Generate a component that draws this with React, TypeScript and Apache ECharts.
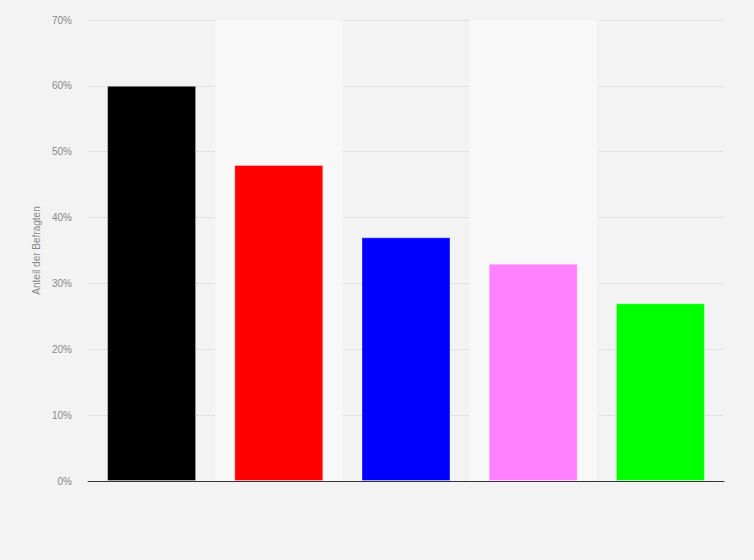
import { useEffect, useRef } from "react";
import * as echarts from "echarts";

const categories = ["1", "2", "3", "4", "5"];
const values = [60, 48, 37, 33, 27];
const barColors = ["#000000", "#ff0000", "#0000ff", "#ff80ff", "#00ff00"];
const yTicks = [0, 10, 20, 30, 40, 50, 60, 70];

export default function App() {
  const ref = useRef<HTMLDivElement>(null);

  useEffect(() => {
    document.body.style.margin = "0";
    if (!ref.current) return;
    const chart = echarts.init(ref.current, undefined, { renderer: "svg" });
    chart.setOption({
      animation: false,
      backgroundColor: "#f3f3f3",
      textStyle: { fontFamily: "Liberation Sans, Arial, sans-serif" },
      grid: { left: 88, right: 30, top: 20, bottom: 79 },
      xAxis: {
        type: "category",
        data: categories,
        axisLabel: { show: false },
        axisTick: { show: false },
        axisLine: { lineStyle: { color: "#333333", width: 1 } },
        splitArea: {
          show: true,
          areaStyle: { color: ["rgba(0,0,0,0)", "#f8f8f8"] },
        },
      },
      yAxis: {
        type: "value",
        min: yTicks[0],
        max: yTicks[yTicks.length - 1],
        interval: 10,
        name: "Anteil der Befragten",
        nameLocation: "middle",
        nameGap: 39,
        nameTextStyle: { color: "#888888", fontSize: 10 },
        axisLabel: {
          color: "#888888",
          fontSize: 10,
          margin: 16,
          formatter: (v: number) => `${v}%`,
        },
        axisLine: { show: false },
        axisTick: { show: false },
        splitLine: { lineStyle: { color: "#d2d2d2", type: [1, 1], width: 1 } },
      },
      series: [
        {
          type: "bar",
          barWidth: 89,
          data: values.map((v, i) => ({
            value: v,
            itemStyle: {
              color: barColors[i],
              borderColor: "rgba(255,255,255,0.35)",
              borderWidth: 1,
            },
          })),
        },
      ],
    });
    return () => chart.dispose();
  }, []);

  return <div ref={ref} style={{ width: 754, height: 560 }} />;
}
